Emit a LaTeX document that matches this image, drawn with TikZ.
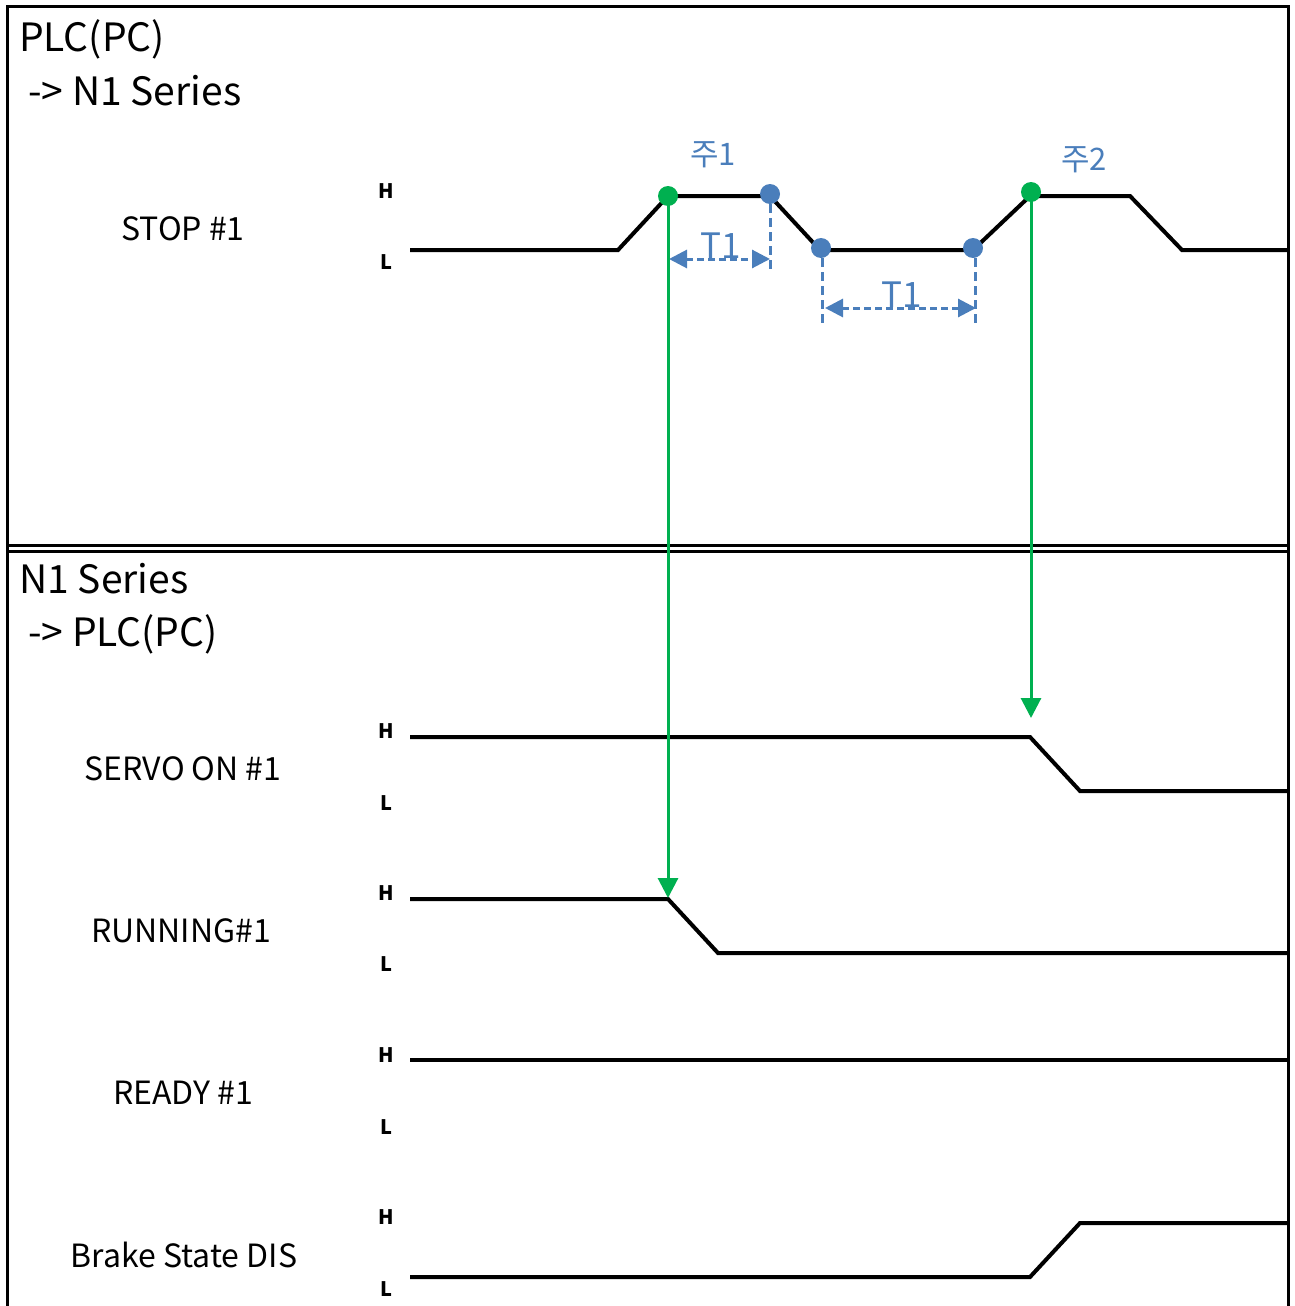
\documentclass[tikz,border=0pt]{standalone}
\usepackage{fontspec}
\setmainfont{Noto Sans CJK KR}
\usetikzlibrary{arrows.meta}
\definecolor{sgreen}{HTML}{00B050}
\definecolor{sblue}{HTML}{4A7EBB}
\begin{document}
\begin{tikzpicture}[x=1pt,y=-1pt,
  frame/.style={line width=3pt},
  sig/.style={line width=4pt},
  title/.style={anchor=base west,inner sep=0pt,font=\fontsize{39}{42}\selectfont},
  slabel/.style={anchor=base,inner sep=0pt,font=\fontsize{32}{36}\selectfont},
  hl/.style={anchor=base,inner sep=0pt,font=\fontsize{20}{24}\selectfont\bfseries},
  note/.style={anchor=base,inner sep=0pt,text=sblue,font=\fontsize{31}{34}\selectfont},
  tlab/.style={anchor=base,inner sep=0pt,text=sblue,font=\fontsize{35}{38}\selectfont},
  gdot/.style={circle,fill=sgreen,inner sep=0pt,minimum size=20pt},
  bdot/.style={circle,fill=sblue,inner sep=0pt,minimum size=20pt},
  garrow/.style={draw=sgreen,line width=3pt,-{Triangle[width=20pt,length=20pt]}},
  dim/.style={draw=sblue,line width=3pt,dash pattern=on 7pt off 4pt,{Triangle[width=18pt,length=18pt]}-{Triangle[width=18pt,length=18pt]}},
  ext/.style={draw=sblue,line width=3pt,dash pattern=on 9pt off 5pt}]
\useasboundingbox (0,0) rectangle (1294,1306);
% frame
\draw[frame] (7,1306) -- (7,7) -- (1288,7) -- (1288,1306);
\draw[frame] (7,545.5) -- (1288,545.5);
\draw[frame] (7,551.5) -- (1288,551.5);
% titles
\node[title] (t1) at (19,52) {PLC(PC)};
\node[title] (t2) at (28,105) {-> N1 Series};
\node[title] (t3) at (19,593) {N1 Series};
\node[title] (t4) at (28,646) {-> PLC(PC)};
% STOP #1
\node[slabel] (lstop) at (183,240) {STOP \#1};
\node[hl] (hstop) at (386,198) {H};
\node[hl] (lostop) at (386,269) {L};
\draw[sig] (410,250) -- (618,250) -- (668,196) -- (770,196) -- (820,250) -- (973,250) -- (1030,196) -- (1130,196) -- (1182,250) -- (1288,250);
% SERVO ON
\node[slabel] (lservo) at (183,780) {SERVO ON \#1};
\node[hl] (hservo) at (386,738) {H};
\node[hl] (loservo) at (386,810) {L};
\draw[sig] (410,737) -- (1030,737) -- (1080,791) -- (1288,791);
% RUNNING
\node[slabel] (lrun) at (181,942) {RUNNING\#1};
\node[hl] (hrun) at (386,900) {H};
\node[hl] (lorun) at (386,971) {L};
\draw[sig] (410,899) -- (668,899) -- (718,953) -- (1288,953);
% READY
\node[slabel] (lready) at (183,1104) {READY \#1};
\node[hl] (hready) at (386,1062) {H};
\node[hl] (loready) at (386,1134) {L};
\draw[sig] (410,1060) -- (1288,1060);
% Brake
\node[slabel] (lbrake) at (184,1267) {Brake State DIS};
\node[hl] (hbrake) at (386,1224) {H};
\node[hl] (lobrake) at (386,1296) {L};
\draw[sig] (410,1277) -- (1030,1277) -- (1080,1223) -- (1288,1223);
% dimension lines
\coordinate (e1a) at (770,204);
\coordinate (e1b) at (770,272);
\coordinate (e2a) at (822,258);
\coordinate (e2b) at (822,326);
\coordinate (e3a) at (975,258);
\coordinate (e3b) at (975,326);
\draw[ext] (e1a) -- (e1b);
\draw[ext] (e2a) -- (e2b);
\draw[ext] (e3a) -- (e3b);
\coordinate (d1a) at (669,259);
\coordinate (d1b) at (770,259);
\coordinate (d2a) at (825,308);
\coordinate (d2b) at (976,308);
\draw[dim] (d1a) -- (d1b);
\draw[dim] (d2a) -- (d2b);
\node[tlab] (T1a) at (721,258) {T1};
\node[tlab] (T1b) at (902,307) {T1};
% dots
\node[bdot] (b1) at (770,194) {};
\node[bdot] (b2) at (821,248) {};
\node[bdot] (b3) at (973,248) {};
\node[gdot] (g1) at (668,196) {};
\node[gdot] (g2) at (1031,192) {};
% notes
\node[note] (n1) at (713,165) {주1};
\node[note] (n2) at (1084,170) {주2};
% green arrows
\coordinate (a1) at (668,898);
\coordinate (a2) at (1031,718);
\draw[garrow] (g1.center) -- (a1);
\draw[garrow] (g2.center) -- (a2);
\end{tikzpicture}
\end{document}
